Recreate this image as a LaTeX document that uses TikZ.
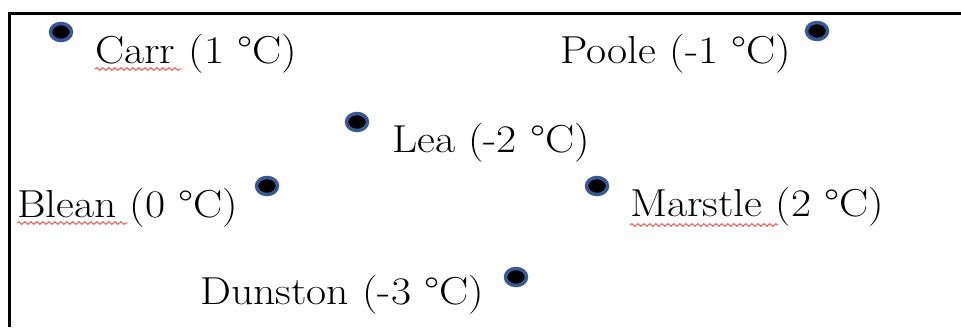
\documentclass[tikz,border=0pt]{standalone}
\usetikzlibrary{shapes.geometric,calc,decorations.pathmorphing}

\definecolor{dotrim}{RGB}{58,88,150}
\definecolor{spellred}{RGB}{240,70,70}

\newcommand{\widetext}[1]{\scalebox{1.12}[1]{#1}}

\tikzset{
  citydot/.style={ellipse, fill=black, draw=dotrim, line width=3.5pt,
    minimum width=21pt, minimum height=17pt, inner sep=0pt},
  citylabel/.style={anchor=base west, inner sep=0pt,
    font=\fontsize{39}{46}\selectfont},
  frameline/.style={line width=3pt, black},
  squiggle/.style={spellred, line width=0.9pt,
    decorate, decoration={snake, amplitude=1.3pt, segment length=6pt}}
}

\begin{document}
\begin{tikzpicture}[x=1pt,y=-1pt]
\useasboundingbox (0,0) rectangle (961,327);

% frame
\draw[frameline] (9,327) -- (9,13) -- (961,13);

% towns
\node[citydot] (carrdot) at (61,32) {};
\node[citylabel] (carr) at (95,63) {\widetext{Carr (1 °C)}};

\node[citydot] (pooledot) at (817,31) {};
\node[citylabel] (poole) at (560,63) {\widetext{Poole (-1 °C)}};

\node[citydot] (leadot) at (357,122) {};
\node[citylabel] (lea) at (392,152) {\widetext{Lea (-2 °C)}};

\node[citydot] (bleandot) at (267,186) {};
\node[citylabel] (blean) at (17,217) {\widetext{Blean (0 °C)}};

\node[citydot] (marstledot) at (597,186) {};
\node[citylabel] (marstle) at (630,216) {\widetext{Marstle (2 °C)}};

\node[citydot] (dunstondot) at (516,277) {};
\node[citylabel] (dunston) at (200,304) {\widetext{Dunston (-3 °C)}};

% spelling marks
\draw[squiggle] ($(carr.base west)+(0,6)$) -- ++(87,0);
\draw[squiggle] ($(blean.base west)+(0,6)$) -- ++(111,0);
\draw[squiggle] ($(marstle.base west)+(0,9)$) -- ++(148,0);
\end{tikzpicture}
\end{document}
